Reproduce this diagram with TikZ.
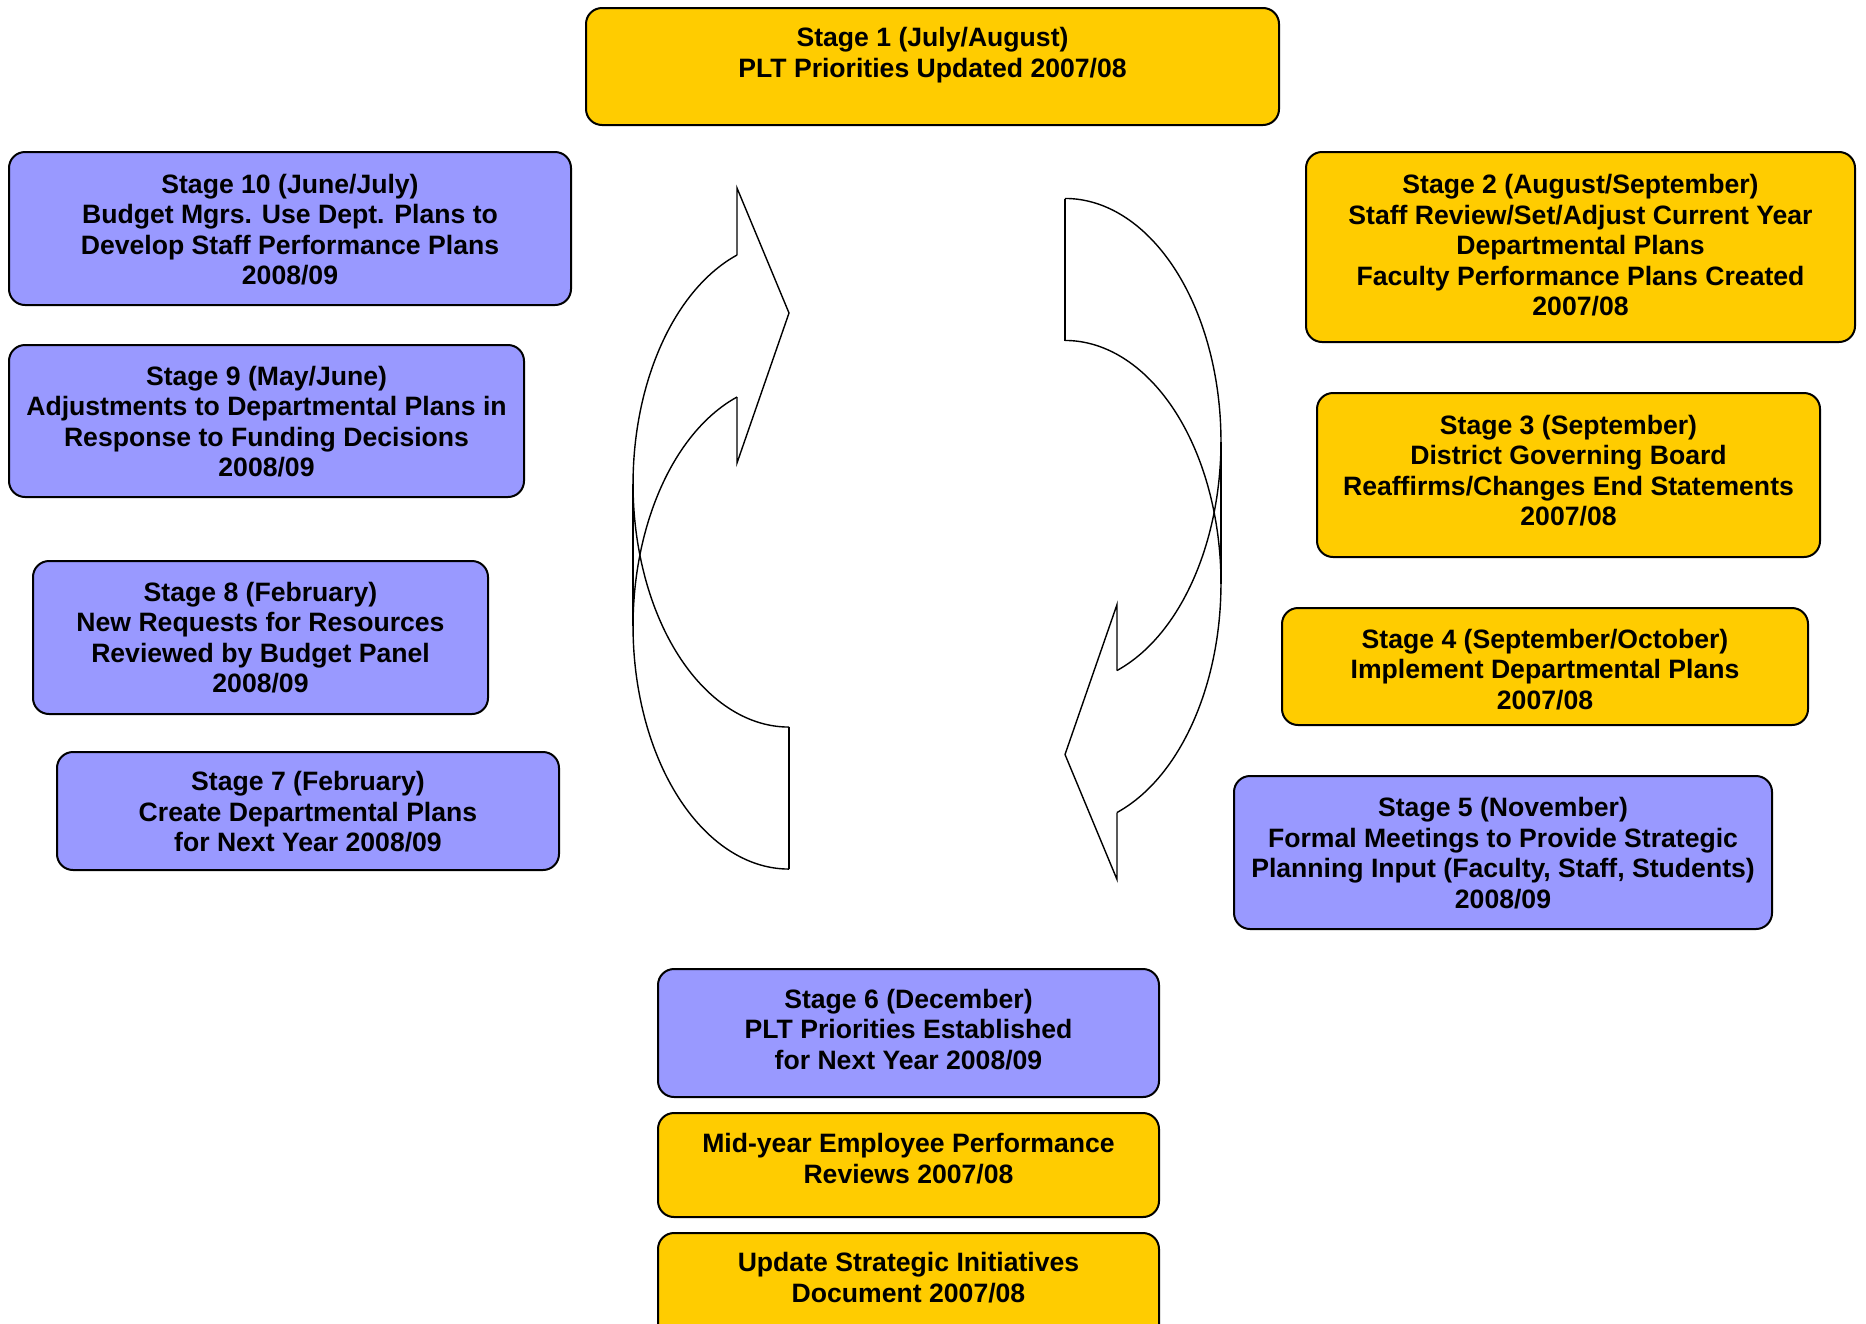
\documentclass[tikz,border=0pt]{standalone}
\usepackage{fontspec}
\setmainfont{Liberation Sans}
\definecolor{stageyellow}{HTML}{FFCC00}
\definecolor{stagepurple}{HTML}{9999FF}
\begin{document}
\begin{tikzpicture}[x=0.5pt,y=0.5pt,
  ybox/.style={draw=black,line width=1pt,rounded corners=8pt,fill=stageyellow},
  pbox/.style={draw=black,line width=1pt,rounded corners=8pt,fill=stagepurple},
  lbl/.style={align=center,inner sep=0pt,font={\fontsize{13.3}{15.25}\selectfont\bfseries}},
  cyc/.style={draw=black,line width=0.7pt,line join=miter}]
\useasboundingbox (0,0) rectangle (1866,-1323);
\clip (0,0) rectangle (1866,-1323);
\fill[white] (0,0) rectangle (1866,-1323);

% boxes
\draw[ybox] (586,-8) rectangle (1279,-125);
\node[lbl] (s1) at (932.5,-55) {Stage 1 (July/August)\\PLT Priorities Updated 2007/08};

\draw[pbox] (9,-152) rectangle (571,-305);
\node[lbl] (s10) at (290,-229.5) {Stage 10 (June/July)\\Budget Mgrs. Use Dept. Plans to\\Develop Staff Performance Plans\\2008/09};

\draw[ybox] (1306,-152) rectangle (1855,-342);
\node[lbl] (s2) at (1580.5,-245.5) {Stage 2 (August/September)\\Staff Review/Set/Adjust Current Year\\Departmental Plans\\Faculty Performance Plans Created\\2007/08};

\draw[pbox] (9,-345) rectangle (524,-497);
\node[lbl] (s9) at (266.5,-421.5) {Stage 9 (May/June)\\Adjustments to Departmental Plans in\\Response to Funding Decisions\\2008/09};

\draw[ybox] (1317,-393) rectangle (1820,-557);
\node[lbl] (s3) at (1568.5,-470.5) {Stage 3 (September)\\District Governing Board\\Reaffirms/Changes End Statements\\2007/08};

\draw[pbox] (33,-561) rectangle (488,-714);
\node[lbl] (s8) at (260.5,-637.5) {Stage 8 (February)\\New Requests for Resources\\Reviewed by Budget Panel\\2008/09};

\draw[ybox] (1282,-608) rectangle (1808,-725);
\node[lbl] (s4) at (1545,-669.5) {Stage 4 (September/October)\\Implement Departmental Plans\\2007/08};

\draw[pbox] (57,-752) rectangle (559,-870);
\node[lbl] (s7) at (308,-812) {Stage 7 (February)\\Create Departmental Plans\\for Next Year 2008/09};

\draw[pbox] (1234,-776) rectangle (1772,-929);
\node[lbl] (s5) at (1503,-853) {Stage 5 (November)\\Formal Meetings to Provide Strategic\\Planning Input (Faculty, Staff, Students)\\2008/09};

\draw[pbox] (658,-969) rectangle (1159,-1097);
\node[lbl] (s6) at (908.5,-1029.5) {Stage 6 (December)\\PLT Priorities Established\\for Next Year 2008/09};

\draw[ybox] (658,-1113) rectangle (1159,-1217);
\node[lbl] (mid) at (908.5,-1158.5) {Mid-year Employee Performance\\Reviews 2007/08};

\draw[ybox] (658,-1233) rectangle (1159,-1345);
\node[lbl] (upd) at (908.5,-1277.5) {Update Strategic Initiatives\\Document 2007/08};

% left curved arrow
\begin{scope}
  \draw[cyc] (737,-255) arc[start angle=109.5,end angle=270,x radius=156,y radius=243];
  \draw[cyc] (737,-397) arc[start angle=109.5,end angle=270,x radius=156,y radius=243];
  \draw[cyc] (633,-484) -- (633,-626);
  \draw[cyc] (789,-727) -- (789,-869);
  \draw[cyc] (737,-255) -- (737,-188) -- (789,-313) -- (737,-463) -- (737,-397);
\end{scope}

% right curved arrow (same shape turned half round)
\begin{scope}[rotate around={180:(927,-533.75)}]
  \draw[cyc] (737,-255) arc[start angle=109.5,end angle=270,x radius=156,y radius=243];
  \draw[cyc] (737,-397) arc[start angle=109.5,end angle=270,x radius=156,y radius=243];
  \draw[cyc] (633,-484) -- (633,-626);
  \draw[cyc] (789,-727) -- (789,-869);
  \draw[cyc] (737,-255) -- (737,-188) -- (789,-313) -- (737,-463) -- (737,-397);
\end{scope}
\end{tikzpicture}
\end{document}
